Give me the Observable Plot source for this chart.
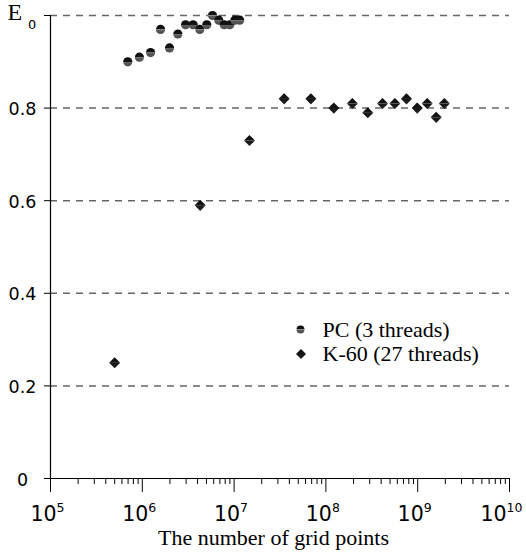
<!DOCTYPE html>
<html>
<head>
<meta charset="utf-8">
<script src="https://cdn.jsdelivr.net/npm/d3@7"></script>
<script src="https://cdn.jsdelivr.net/npm/@observablehq/plot@0.6"></script>
<style>
  html, body { margin: 0; padding: 0; background: white; }
  svg { display: block; }
</style>
</head>
<body>
<div id="chart"></div>
<script>
// PC (3 threads)
const pcN = [6.95e5, 9.3e5, 1.23e6, 1.58e6, 1.98e6, 2.44e6, 2.96e6, 3.58e6, 4.23e6, 5.04e6, 5.82e6, 6.81e6, 7.8e6, 8.98e6, 1.02e7, 1.15e7];
const pcE = [0.90, 0.91, 0.92, 0.97, 0.93, 0.96, 0.98, 0.98, 0.97, 0.98, 1.00, 0.99, 0.98, 0.98, 0.99, 0.99];
// K-60 (27 threads)
const k60N = [5.0e5, 4.27e6, 1.47e7, 3.51e7, 6.86e7, 1.22e8, 1.94e8, 2.86e8, 4.14e8, 5.64e8, 7.55e8, 9.88e8, 1.27e9, 1.59e9, 1.95e9];
const k60E = [0.25, 0.59, 0.73, 0.82, 0.82, 0.80, 0.81, 0.79, 0.81, 0.81, 0.82, 0.80, 0.81, 0.78, 0.81];

const seriesNames = ["PC (3 threads)", "K-60 (27 threads)"];
const xExponents = [5, 6, 7, 8, 9, 10];
const yTicks = [0, 0.2, 0.4, 0.6, 0.8];
const yTickLabels = ["0", "0.2", "0.4", "0.6", "0.8"];
const yGrid = [0.2, 0.4, 0.6, 0.8, 1.0];
const yTopLabel = ["E", "0"];
const xTitle = "The number of grid points";

const majorX = xExponents.map(e => Math.pow(10, e));
const minorX = [];
for (const e of xExponents.slice(0, -1)) for (let k = 2; k <= 9; k++) minorX.push(k * Math.pow(10, e));

const pc = pcN.map((n, i) => ({n, e: pcE[i]}));
const k60 = k60N.map((n, i) => ({n, e: k60E[i]}));
const xLabels = majorX.map((v, i) => ({v, exp: String(xExponents[i])}));
const xLabelsInner = xLabels.slice(0, -1);
const xLabelsLast = xLabels.slice(-1);

const sans = "DejaVu Sans";
const serif = "Liberation Serif";

const chart = Plot.plot({
  width: 526,
  height: 553,
  marginLeft: 50,
  marginRight: 17,
  marginTop: 15,
  marginBottom: 75,
  style: {background: "white", color: "black", overflow: "visible"},
  x: {type: "log", domain: [1e5, 1e10]},
  y: {domain: [0, 1]},
  marks: [
    Plot.ruleY(yGrid, {stroke: "#666", strokeWidth: 1.5, strokeDasharray: "7,6"}),
    Plot.ruleX([1e5], {stroke: "black", strokeWidth: 1.2}),
    Plot.ruleY([0], {stroke: "black", strokeWidth: 1.2}),
    Plot.axisX({ticks: majorX, tickSize: 14, tickFormat: () => "", label: null, stroke: "black"}),
    Plot.axisX({ticks: minorX, tickSize: 6, tickFormat: () => "", label: null, stroke: "black"}),
    Plot.axisY({ticks: [...yTicks, 1], tickSize: 6, tickFormat: () => "", label: null, stroke: "black"}),
    // x tick labels: 10^e
    Plot.text(xLabelsInner, {x: "v", frameAnchor: "bottom", lineAnchor: "middle", text: () => "10", textAnchor: "end", dx: 6, dy: 35.5, fontSize: 20.5, fontFamily: sans, fill: "black"}),
    Plot.text(xLabelsInner, {x: "v", frameAnchor: "bottom", lineAnchor: "middle", text: "exp", textAnchor: "start", dx: 6, dy: 29.5, fontSize: 12.5, fontFamily: sans, fill: "black"}),
    Plot.text(xLabelsLast, {x: "v", frameAnchor: "bottom", lineAnchor: "middle", text: () => "10", textAnchor: "end", dx: -3, dy: 35.5, fontSize: 20.5, fontFamily: sans, fill: "black"}),
    Plot.text(xLabelsLast, {x: "v", frameAnchor: "bottom", lineAnchor: "middle", text: "exp", textAnchor: "start", dx: -3, dy: 29.5, fontSize: 12.5, fontFamily: sans, fill: "black"}),
    // y tick labels
    Plot.text(yTicks, {y: d => d, frameAnchor: "left", lineAnchor: "middle", text: (d, i) => yTickLabels[i], textAnchor: "middle", dx: -28, dy: 1.5, fontSize: 17.5, fontFamily: sans, fill: "black"}),
    // E0 label
    Plot.text([1], {y: d => d, frameAnchor: "left", lineAnchor: "middle", text: () => yTopLabel[0], textAnchor: "start", dx: -43, dy: -3, fontSize: 24, fontFamily: serif, fill: "black"}),
    Plot.text([1], {y: d => d, frameAnchor: "left", lineAnchor: "middle", text: () => yTopLabel[1], textAnchor: "start", dx: -22.5, dy: 9, fontSize: 13, fontFamily: sans, fill: "black"}),
    // x title
    Plot.text([xTitle], {frameAnchor: "bottom", lineAnchor: "middle", text: d => d, dx: -6.5, dy: 59, fontSize: 22, fontFamily: serif, fill: "black"}),
    // data
    Plot.dot(pc, {x: "n", y: "e", r: 4.6, fill: "url(#pcGrad)", stroke: "none"}),
    Plot.dot(k60, {x: "n", y: "e", r: 5, symbol: "diamond2", fill: "url(#kGrad)", stroke: "none"}),
    // legend
    Plot.dot([seriesNames[0]], {frameAnchor: "top-left", dx: 250, dy: 314, r: 4, fill: "url(#pcGrad)", stroke: "none"}),
    Plot.dot([seriesNames[1]], {frameAnchor: "top-left", dx: 250.5, dy: 338.5, r: 4.5, symbol: "diamond2", fill: "url(#kGrad)", stroke: "none"}),
    Plot.text([seriesNames[0]], {frameAnchor: "top-left", lineAnchor: "middle", text: d => d, textAnchor: "start", dx: 272, dy: 314, fontSize: 22, fontFamily: serif, fill: "black"}),
    Plot.text([seriesNames[1]], {frameAnchor: "top-left", lineAnchor: "middle", text: d => d, textAnchor: "start", dx: 272, dy: 338.5, fontSize: 22, fontFamily: serif, fill: "black"})
  ]
});

document.getElementById("chart").appendChild(chart);

d3.select(chart).insert("defs", ":first-child").html(`
  <linearGradient id="pcGrad" x1="0" y1="0" x2="0" y2="1">
    <stop offset="0" stop-color="#0a0a0a"/>
    <stop offset="0.48" stop-color="#151515"/>
    <stop offset="0.5" stop-color="#8a8a8a"/>
    <stop offset="0.58" stop-color="#5c5c5c"/>
    <stop offset="1" stop-color="#4a4a4a"/>
  </linearGradient>
  <linearGradient id="kGrad" x1="0" y1="0" x2="0" y2="1">
    <stop offset="0" stop-color="#0d0d0d"/>
    <stop offset="0.46" stop-color="#141414"/>
    <stop offset="0.5" stop-color="#5a5a5a"/>
    <stop offset="0.54" stop-color="#161616"/>
    <stop offset="1" stop-color="#222"/>
  </linearGradient>
`);
</script>
</body>
</html>
